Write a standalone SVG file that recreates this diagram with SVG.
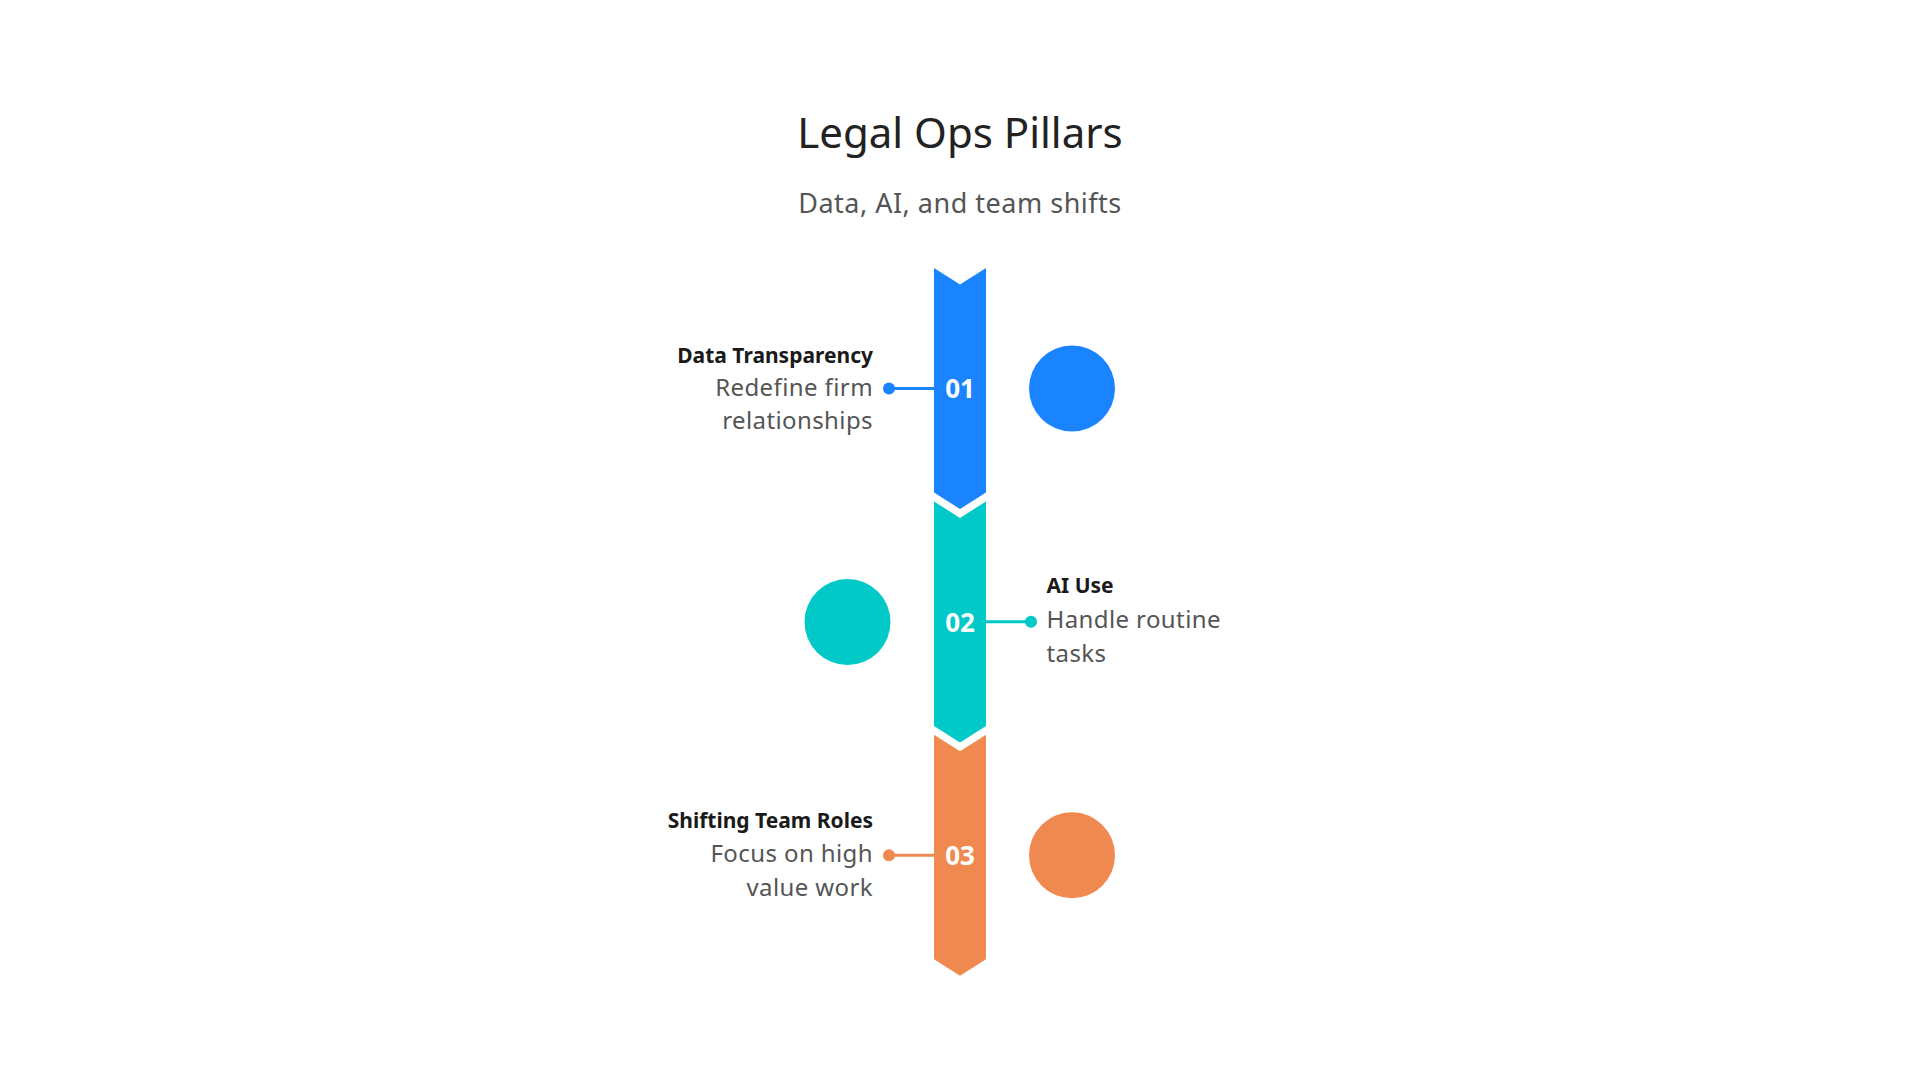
<svg xmlns="http://www.w3.org/2000/svg" width="1920" height="1080" viewBox="0 0 1920 1080">
  <style>
    text { font-family: "Noto Sans", "Open Sans", "DejaVu Sans", sans-serif; }
    .title { font-size: 42px; fill: #222222; }
    .subtitle { font-size: 27px; letter-spacing: 0.5px; fill: #555555; }
    .head { font-size: 21px; font-weight: 700; fill: #1a1a1a; }
    .desc { font-size: 24px; letter-spacing: 0.4px; fill: #555555; }
    .num { font-size: 26px; font-weight: 700; fill: #ffffff; text-anchor: middle; }
    .blue { fill: #1A84FF; }
    .teal { fill: #00C9C8; }
    .orange { fill: #F0894F; }
  </style>
  <rect width="1920" height="1080" fill="#ffffff"/>
  <text class="title" x="960" y="147.7" text-anchor="middle">Legal Ops Pillars</text>
  <text class="subtitle" x="960" y="213.3" text-anchor="middle">Data, AI, and team shifts</text>

  <g id="connectors">
    <line x1="889" y1="388.5" x2="936" y2="388.5" stroke="#1A84FF" stroke-width="3"/>
    <circle cx="889" cy="388.5" r="6" fill="#1A84FF"/>
    <line x1="984" y1="621.8" x2="1031" y2="621.8" stroke="#00C9C8" stroke-width="3"/>
    <circle cx="1031" cy="621.8" r="6" fill="#00C9C8"/>
    <line x1="889" y1="855.2" x2="936" y2="855.2" stroke="#F0894F" stroke-width="3"/>
    <circle cx="889" cy="855.2" r="6" fill="#F0894F"/>
  </g>

  <g id="pillar-1">
    <path class="blue" d="M934,268 L960,284.5 L986,268 L986,492.5 L960,509 L934,492.5 Z"/>
    <text class="num" x="960" y="398">01</text>
    <circle class="blue" cx="1072" cy="388.5" r="43"/>
    <text class="head" x="873" y="363.3" text-anchor="end">Data Transparency</text>
    <text class="desc" x="873" y="395.7" text-anchor="end">Redefine firm</text>
    <text class="desc" x="873" y="428.8" text-anchor="end">relationships</text>
  </g>

  <g id="pillar-2">
    <path class="teal" d="M934,501.4 L960,517.9 L986,501.4 L986,725.9 L960,742.4 L934,725.9 Z"/>
    <text class="num" x="960" y="631.5">02</text>
    <circle class="teal" cx="847.5" cy="622" r="43"/>
    <text class="head" x="1046.5" y="593.3">AI Use</text>
    <text class="desc" x="1046.5" y="628.3">Handle routine</text>
    <text class="desc" x="1046.5" y="661.7">tasks</text>
  </g>

  <g id="pillar-3">
    <path class="orange" d="M934,734.8 L960,751.3 L986,734.8 L986,959.3 L960,975.8 L934,959.3 Z"/>
    <text class="num" x="960" y="864.5">03</text>
    <circle class="orange" cx="1072" cy="855.3" r="43"/>
    <text class="head" x="873" y="828.3" text-anchor="end">Shifting Team Roles</text>
    <text class="desc" x="873" y="861.7" text-anchor="end">Focus on high</text>
    <text class="desc" x="873" y="896" text-anchor="end">value work</text>
  </g>
</svg>
